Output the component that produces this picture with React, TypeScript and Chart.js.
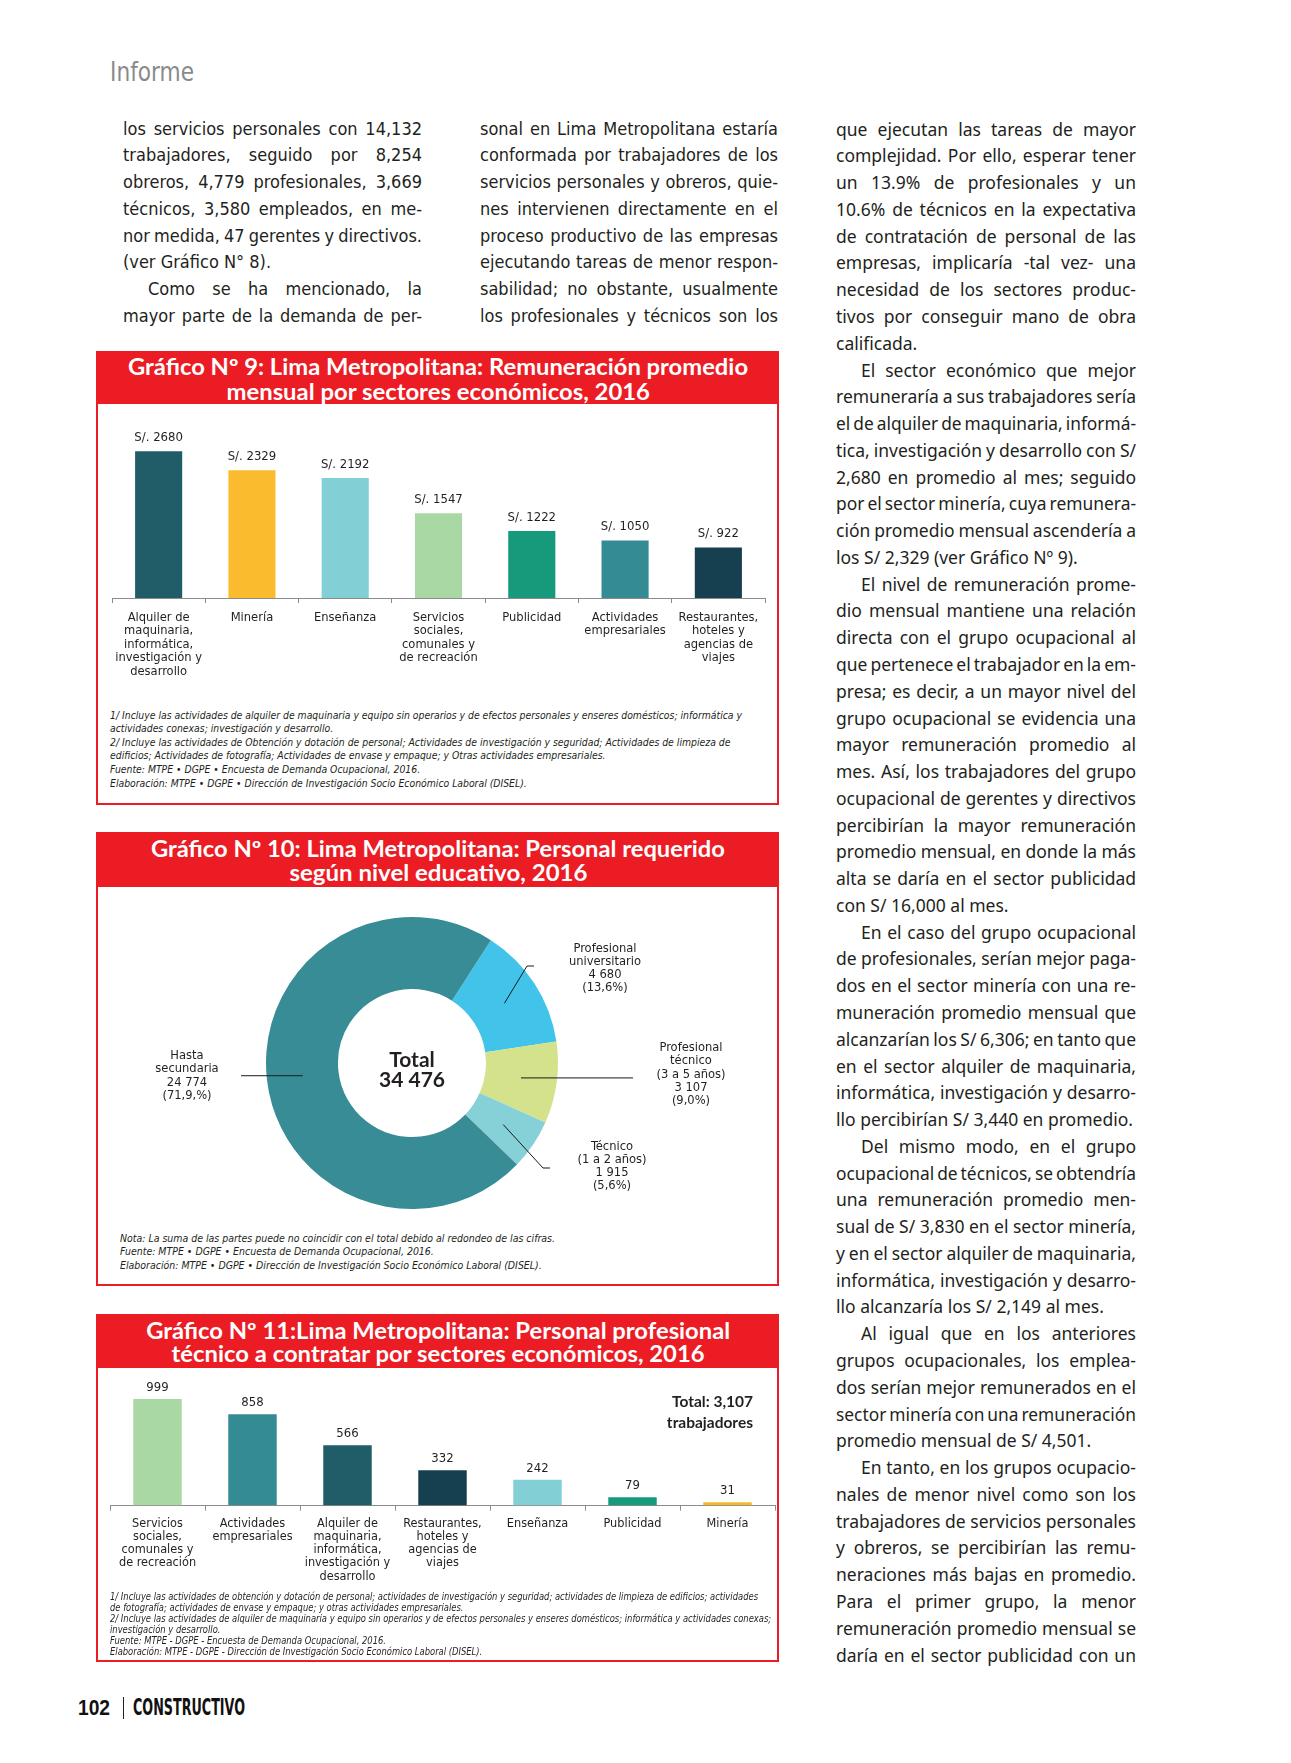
import React, { useEffect, useRef } from "react";
import { Chart, registerables } from "chart.js";
Chart.register(...registerables);

// ---------------- DATA ----------------
// Gráfico 9
const sectores9: (string | string[])[] = [
  ["Alquiler de", "maquinaria,", "informática,", "investigación y", "desarrollo"],
  "Minería",
  "Enseñanza",
  ["Servicios", "sociales,", "comunales y", "de recreación"],
  "Publicidad",
  ["Actividades", "empresariales"],
  ["Restaurantes,", "hoteles y", "agencias de", "viajes"],
];
const remuneracion9 = [2680, 2329, 2192, 1547, 1222, 1050, 922];
const colores9 = ["#215d69", "#fbbb2e", "#82cfd6", "#aad8a5", "#169a7b", "#358b94", "#163f4f"];

// Gráfico 10
const niveles10 = ["Profesional universitario", "Profesional técnico (3 a 5 años)", "Técnico (1 a 2 años)", "Hasta secundaria"];
const personal10 = [4680, 3107, 1915, 24774];
const colores10 = ["#42c3e9", "#d3e28b", "#86d0d8", "#388c96"];
const etiquetas10 = [
  ["Profesional", "universitario", "4 680", "(13,6%)"],
  ["Profesional", "técnico", "(3 a 5 años)", "3 107", "(9,0%)"],
  ["Técnico", "(1 a 2 años)", "1 915", "(5,6%)"],
  ["Hasta", "secundaria", "24 774", "(71,9,%)"],
];
const total10 = ["Total", "34 476"];

// Gráfico 11
const sectores11: (string | string[])[] = [
  ["Servicios", "sociales,", "comunales y", "de recreación"],
  ["Actividades", "empresariales"],
  ["Alquiler de", "maquinaria,", "informática,", "investigación y", "desarrollo"],
  ["Restaurantes,", "hoteles y", "agencias de", "viajes"],
  "Enseñanza",
  "Publicidad",
  "Minería",
];
const tecnicos11 = [999, 858, 566, 332, 242, 79, 31];
const colores11 = ["#aad8a5", "#358b94", "#215d69", "#163f4f", "#82cfd6", "#169a7b", "#f4b82e"];
const total11 = ["Total: 3,107", "trabajadores"];

// ---------------- TEXT ----------------
const col1 = [
  "los servicios personales con 14,132",
  "trabajadores, seguido por 8,254",
  "obreros, 4,779 profesionales, 3,669",
  "técnicos, 3,580 empleados, en me-",
  "nor medida, 47 gerentes y directivos.",
  "(ver Gráfico N° 8).|",
  ">Como se ha mencionado, la",
  "mayor parte de la demanda de per-",
];
const col2 = [
  "sonal en Lima Metropolitana estaría",
  "conformada por trabajadores de los",
  "servicios personales y obreros, quie-",
  "nes intervienen directamente en el",
  "proceso productivo de las empresas",
  "ejecutando tareas de menor respon-",
  "sabilidad; no obstante, usualmente",
  "los profesionales y técnicos son los",
];
const col3 = [
  "que ejecutan las tareas de mayor",
  "complejidad. Por ello, esperar tener",
  "un 13.9% de profesionales y un",
  "10.6% de técnicos en la expectativa",
  "de contratación de personal de las",
  "empresas, implicaría -tal vez- una",
  "necesidad de los sectores produc-",
  "tivos por conseguir mano de obra",
  "calificada.|",
  ">El sector económico que mejor",
  "remuneraría a sus trabajadores sería",
  "el de alquiler de maquinaria, informá-",
  "tica, investigación y desarrollo con S/",
  "2,680 en promedio al mes; seguido",
  "por el sector minería, cuya remunera-",
  "ción promedio mensual ascendería a",
  "los S/ 2,329 (ver Gráfico Nº 9).|",
  ">El nivel de remuneración prome-",
  "dio mensual mantiene una relación",
  "directa con el grupo ocupacional al",
  "que pertenece el trabajador en la em-",
  "presa; es decir, a un mayor nivel del",
  "grupo ocupacional se evidencia una",
  "mayor remuneración promedio al",
  "mes. Así, los trabajadores del grupo",
  "ocupacional de gerentes y directivos",
  "percibirían la mayor remuneración",
  "promedio mensual, en donde la más",
  "alta se daría en el sector publicidad",
  "con S/ 16,000 al mes.|",
  ">En el caso del grupo ocupacional",
  "de profesionales, serían mejor paga-",
  "dos en el sector minería con una re-",
  "muneración promedio mensual que",
  "alcanzarían los S/ 6,306; en tanto que",
  "en el sector alquiler de maquinaria,",
  "informática, investigación y desarro-",
  "llo percibirían S/ 3,440 en promedio.|",
  ">Del mismo modo, en el grupo",
  "ocupacional de técnicos, se obtendría",
  "una remuneración promedio men-",
  "sual de S/ 3,830 en el sector minería,",
  "y en el sector alquiler de maquinaria,",
  "informática, investigación y desarro-",
  "llo alcanzaría los S/ 2,149 al mes.|",
  ">Al igual que en los anteriores",
  "grupos ocupacionales, los emplea-",
  "dos serían mejor remunerados en el",
  "sector minería con una remuneración",
  "promedio mensual de S/ 4,501.|",
  ">En tanto, en los grupos ocupacio-",
  "nales de menor nivel como son los",
  "trabajadores de servicios personales",
  "y obreros, se percibirían las remu-",
  "neraciones más bajas en promedio.",
  "Para el primer grupo, la menor",
  "remuneración promedio mensual se",
  "daría en el sector publicidad con un",
];

const notas9 = [
  "1/ Incluye las actividades de alquiler de maquinaria y equipo sin operarios y de efectos personales y enseres domésticos; informática y",
  "actividades conexas; investigación y desarrollo.",
  "2/ Incluye las actividades de Obtención y dotación de personal; Actividades de investigación y seguridad; Actividades de limpieza de",
  "edificios; Actividades de fotografía; Actividades de envase y empaque; y Otras actividades empresariales.",
  "Fuente: MTPE • DGPE • Encuesta de Demanda Ocupacional, 2016.",
  "Elaboración: MTPE • DGPE • Dirección de Investigación Socio Económico Laboral (DISEL).",
];
const notas10 = [
  "Nota: La suma de las partes puede no coincidir con el total debido al redondeo de las cifras.",
  "Fuente: MTPE • DGPE • Encuesta de Demanda Ocupacional, 2016.",
  "Elaboración: MTPE • DGPE • Dirección de Investigación Socio Económico Laboral (DISEL).",
];
const notas11 = [
  "1/ Incluye las actividades de obtención y dotación de personal; actividades de investigación y seguridad; actividades de limpieza de edificios; actividades",
  "de fotografía; actividades de envase y empaque; y otras actividades empresariales.",
  "2/ Incluye las actividades de alquiler de maquinaria y equipo sin operarios y de efectos personales y enseres domésticos; informática y actividades conexas;",
  "investigación y desarrollo.",
  "Fuente: MTPE - DGPE - Encuesta de Demanda Ocupacional, 2016.",
  "Elaboración: MTPE - DGPE - Dirección de Investigación Socio Económico Laboral (DISEL).",
];

// ---------------- STYLE ----------------
const NARROW = '"Liberation Sans Narrow", "DejaVu Sans Condensed", "Arial Narrow", sans-serif';
const SANS = '"Noto Sans", "Open Sans", sans-serif';
const TITLE = 'Lato, "Noto Sans", sans-serif';
const RED = "#ec1c24";
const INK = "#231f20";

let _ctx: CanvasRenderingContext2D | null = null;
function measure(text: string, font: string): number {
  if (!_ctx) _ctx = document.createElement("canvas").getContext("2d");
  _ctx!.font = font;
  return _ctx!.measureText(text).width;
}

type FontSpec = { family: string; size: number; weight?: number; style?: string };
const fstr = (f: FontSpec) => `${f.style || "normal"} ${f.weight || 400} ${f.size}px ${f.family}`;

function Fit(props: { text: string; x: number; cy: number; w?: number; font: FontSpec; color: string; align?: "left" | "center" | "right"; scale?: number }) {
  const { text, x, cy, w, font, color } = props;
  const align = props.align || "left";
  const nat = measure(text, fstr(font));
  const k = props.scale !== undefined ? props.scale : w ? w / nat : 1;
  const lh = Math.round(font.size * 1.4);
  let left = x;
  if (align === "center") left = x - nat / 2;
  if (align === "right") left = x - nat;
  return (
    <div
      style={{
        position: "absolute",
        left,
        top: cy - lh / 2,
        height: lh,
        lineHeight: lh + "px",
        whiteSpace: "pre",
        fontFamily: font.family,
        fontSize: font.size,
        fontWeight: font.weight || 400,
        fontStyle: font.style || "normal",
        color,
        transform: k !== 1 ? `scaleX(${k})` : undefined,
        transformOrigin: align === "center" ? "center center" : align === "right" ? "right center" : "left center",
      }}
    >
      {text}
    </div>
  );
}

function Column(props: { lines: string[]; x: number; w: number; y0: number; pitch: number; font: FontSpec; indent: number }) {
  const { lines, x, w, y0, pitch, font, indent } = props;
  const f = fstr(font);
  return (
    <>
      {lines.map((raw, i) => {
        let t = raw;
        let ind = 0;
        let justify = true;
        if (t.startsWith(">")) { t = t.slice(1); ind = indent; }
        if (t.endsWith("|")) { t = t.slice(0, -1); justify = false; }
        const width = w - ind;
        const nat = measure(t, f);
        const spaces = (t.match(/ /g) || []).length;
        let ws = 0;
        let k = 1;
        if (justify && spaces > 0) {
          ws = (width - nat) / spaces;
          if (ws < -1.5) { ws = -1.5; k = width / (nat - 1.5 * spaces); }
        } else if (nat > width) {
          k = width / nat;
        }
        return (
          <div
            key={i}
            style={{
              position: "absolute",
              left: x + ind,
              top: y0 + i * pitch - pitch / 2,
              height: pitch,
              lineHeight: pitch + "px",
              whiteSpace: "pre",
              fontFamily: font.family,
              fontSize: font.size,
              fontWeight: font.weight || 400,
              color: INK,
              wordSpacing: ws,
              transform: k !== 1 ? `scaleX(${k})` : undefined,
              transformOrigin: "left center",
            }}
          >
            {t}
          </div>
        );
      })}
    </>
  );
}

function Notes(props: { lines: string[]; x: number; y0: number; pitch: number; firstWidth: number; size: number }) {
  const font: FontSpec = { family: NARROW, size: props.size, style: "italic" };
  const k = props.firstWidth / measure(props.lines[0], fstr(font));
  return (
    <>
      {props.lines.map((l, i) => (
        <Fit key={i} text={l} x={props.x} cy={props.y0 + i * props.pitch} font={font} color={INK} scale={k} />
      ))}
    </>
  );
}

function Box(props: { top: number; bottom: number; band: number }) {
  return (
    <>
      <div style={{ position: "absolute", left: 96, top: props.top, width: 683, height: props.bottom - props.top, border: `2px solid ${RED}`, boxSizing: "border-box", background: "#fff" }} />
      <div style={{ position: "absolute", left: 96, top: props.top, width: 683, height: props.band, background: RED }} />
    </>
  );
}

function Title(props: { lines: [string, number][]; ys: number[] }) {
  const font: FontSpec = { family: TITLE, size: 22, weight: 700 };
  return (
    <>
      {props.lines.map(([t, w], i) => (
        <Fit key={i} text={t} x={438} cy={props.ys[i]} w={w} font={font} color="#ffffff" align="center" />
      ))}
    </>
  );
}

// ---------------- CHART PLUGINS ----------------
function makeValueLabels(format: (v: number) => string, size: number, offset: number) {
  return {
    id: "valueLabels",
    afterDatasetsDraw(chart: any) {
      const ctx = chart.ctx;
      const meta = chart.getDatasetMeta(0);
      const data = chart.data.datasets[0].data as number[];
      ctx.save();
      ctx.font = `normal 400 ${size}px ${NARROW}`;
      ctx.fillStyle = INK;
      ctx.textAlign = "center";
      ctx.textBaseline = "middle";
      meta.data.forEach((el: any, i: number) => {
        ctx.fillText(format(data[i]), el.x, el.y - offset);
      });
      ctx.restore();
    },
  };
}

// leader path after the slice centroid: list of points; null y keeps the previous y
const leaders10: [number, number | null][][] = [
  [[427, 78], [434, 78]],
  [[533, null]],
  [[443, 280], [450, 280]],
  [[141, null]],
];

function makeLeaders() {
  return {
    id: "leaders",
    afterDatasetsDraw(chart: any) {
      const ctx = chart.ctx;
      const meta = chart.getDatasetMeta(0);
      ctx.save();
      ctx.strokeStyle = "#1a1a1a";
      ctx.lineWidth = 1;
      meta.data.forEach((arc: any, i: number) => {
        const p = arc.getCenterPoint();
        ctx.beginPath();
        ctx.moveTo(p.x, p.y);
        let py = p.y;
        leaders10[i].forEach(([x, y]) => {
          const yy = y === null ? py : y;
          ctx.lineTo(x, yy);
          py = yy;
        });
        ctx.stroke();
      });
      ctx.restore();
    },
  };
}

function barOptions(padding: any, max: number, tickSize: number, lineH: number, tickPad: number) {
  return {
    responsive: false,
    animation: false as const,
    events: [],
    layout: { padding },
    plugins: { legend: { display: false }, tooltip: { enabled: false } },
    scales: {
      x: {
        grid: { display: true, drawOnChartArea: false, drawTicks: true, tickLength: 5, offset: true, color: "#8c8c8c", lineWidth: 1 },
        border: { display: true, color: "#8c8c8c", width: 1 },
        ticks: { color: INK, font: { family: NARROW, size: tickSize, lineHeight: lineH / tickSize }, padding: tickPad, maxRotation: 0, minRotation: 0, autoSkip: false },
      },
      y: { display: false, min: 0, max },
    },
  };
}

export default function App() {
  const ref9 = useRef<HTMLCanvasElement>(null);
  const ref10 = useRef<HTMLCanvasElement>(null);
  const ref11 = useRef<HTMLCanvasElement>(null);

  useEffect(() => {
    const c9 = new Chart(ref9.current!, {
      type: "bar",
      data: { labels: sectores9, datasets: [{ data: remuneracion9, backgroundColor: colores9, borderWidth: 0, barPercentage: 0.505, categoryPercentage: 1 }] },
      options: barOptions({ left: 12, right: 11, top: 29.6, bottom: 8.5 }, 3000, 12.8, 13.5, 7.5) as any,
      plugins: [makeValueLabels((v) => "S/. " + v, 13, 13.5)],
    });
    const c10 = new Chart(ref10.current!, {
      type: "doughnut",
      data: { labels: niveles10, datasets: [{ data: personal10, backgroundColor: colores10, borderWidth: 0 }] },
      options: {
        responsive: false,
        animation: false,
        events: [],
        rotation: 32.7,
        cutout: "50.7%",
        layout: { padding: { left: 166, right: 218, top: 29, bottom: 19 } },
        plugins: { legend: { display: false }, tooltip: { enabled: false } },
      } as any,
      plugins: [makeLeaders()],
    });
    const c11 = new Chart(ref11.current!, {
      type: "bar",
      data: { labels: sectores11, datasets: [{ data: tecnicos11, backgroundColor: colores11, borderWidth: 0, barPercentage: 0.51, categoryPercentage: 1 }] },
      options: barOptions({ left: 10, right: 1, top: 8.7, bottom: 4.6 }, 1200, 12.6, 13.2, 6.4) as any,
      plugins: [makeValueLabels((v) => String(v), 13, 11.5)],
    });
    return () => {
      c9.destroy();
      c10.destroy();
      c11.destroy();
    };
  }, []);

  const bodyNarrow: FontSpec = { family: NARROW, size: 18 };
  const bodySans: FontSpec = { family: SANS, size: 17.5 };
  const lab: FontSpec = { family: NARROW, size: 12.8 };

  return (
    <div style={{ position: "absolute", left: 0, top: 0, width: 1291, height: 1763, background: "#fff", overflow: "hidden" }}>
      <Fit text="Informe" x={109.5} cy={72} w={84} font={{ family: NARROW, size: 27 }} color="#8a8a8a" />

      <Column lines={col1} x={123} w={299} y0={129} pitch={26.77} font={bodyNarrow} indent={25} />
      <Column lines={col2} x={480} w={298} y0={129} pitch={26.77} font={bodyNarrow} indent={25} />
      <Column lines={col3} x={836} w={300} y0={129} pitch={26.77} font={bodySans} indent={25} />

      {/* Gráfico 9 */}
      <Box top={351} bottom={805} band={53} />
      <Title lines={[["Gráfico Nº 9: Lima Metropolitana: Remuneración promedio", 620], ["mensual por sectores económicos, 2016", 424]]} ys={[366.7, 391]} />
      <canvas ref={ref9} width={676} height={290} style={{ position: "absolute", left: 100, top: 404, width: 676, height: 290 }} />
      <Notes lines={notas9} x={110} y0={715} pitch={13.6} firstWidth={632} size={10.5} />

      {/* Gráfico 10 */}
      <Box top={832} bottom={1286} band={55} />
      <Title lines={[["Gráfico Nº 10: Lima Metropolitana: Personal requerido", 574], ["según nivel educativo, 2016", 298]]} ys={[848.3, 872.7]} />
      <canvas ref={ref10} width={676} height={340} style={{ position: "absolute", left: 100, top: 888, width: 676, height: 340 }} />
      {total10.map((t, i) => (
        <Fit key={i} text={t} x={412} cy={1058 + i * 20} font={{ family: TITLE, size: 21, weight: 700 }} color={INK} align="center" />
      ))}
      {etiquetas10.map((lines, j) => {
        const pos = [[605, 947.5], [691, 1047], [612, 1145.5], [187, 1055]][j];
        return lines.map((t, i) => <Fit key={j + "-" + i} text={t} x={pos[0]} cy={pos[1] + i * 13.3} font={lab} color={INK} align="center" />);
      })}
      <Notes lines={notas10} x={120} y0={1238} pitch={13.5} firstWidth={435} size={10.5} />

      {/* Gráfico 11 */}
      <Box top={1314} bottom={1662} band={54} />
      <Title lines={[["Gráfico Nº 11:Lima Metropolitana: Personal profesional", 584], ["técnico a contratar por sectores económicos, 2016", 534]]} ys={[1330.7, 1353]} />
      <canvas ref={ref11} width={676} height={225} style={{ position: "absolute", left: 100, top: 1369, width: 676, height: 225 }} />
      {total11.map((t, i) => (
        <Fit key={i} text={t} x={753} cy={1400.7 + i * 21} font={{ family: TITLE, size: 15.5, weight: 700 }} color={INK} align="right" />
      ))}
      <Notes lines={notas11} x={110} y0={1596.5} pitch={11} firstWidth={648} size={10} />

      {/* Footer */}
      <Fit text="102" x={78} cy={1707} w={32} font={{ family: '"Liberation Sans", Arial, sans-serif', size: 22, weight: 700 }} color="#111" />
      <div style={{ position: "absolute", left: 123, top: 1697, width: 1, height: 22, background: "#222" }} />
      <Fit text="CONSTRUCTIVO" x={133} cy={1707} w={112} font={{ family: NARROW, size: 23, weight: 700 }} color="#111" />
    </div>
  );
}
